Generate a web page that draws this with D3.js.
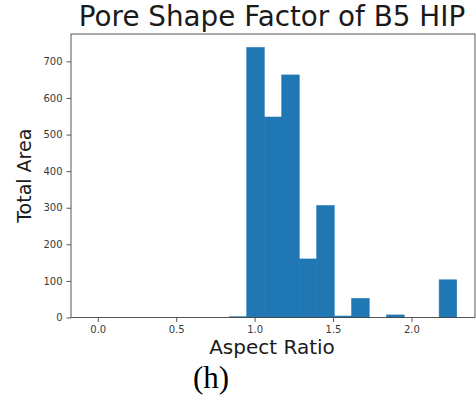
<!DOCTYPE html>
<html>
<head>
<meta charset="utf-8">
<script src="https://cdn.jsdelivr.net/npm/d3@7"></script>
<style>
  html, body { margin: 0; padding: 0; background: #fff; }
  svg { display: block; }
</style>
</head>
<body>
<svg id="chart" width="476" height="398"></svg>
<script>
// Histogram of pore aspect ratios, weighted by area
const binStart = -0.0535;
const binWidth = 0.1115;
const binTotals = [0, 0, 0, 0, 0, 0, 0, 0, 2, 738, 548, 663, 160, 306, 4, 52, 0, 7, 0, 0, 103];
const xTicks = [0.0, 0.5, 1.0, 1.5, 2.0];
const yTicks = [0, 100, 200, 300, 400, 500, 600, 700];
const titleText = "Pore Shape Factor of B5 HIP";
const xLabelText = "Aspect Ratio";
const yLabelText = "Total Area";
const panelText = "(h)";

const bins = binTotals.map((v, i) => ({
  x0: binStart + i * binWidth,
  x1: binStart + (i + 1) * binWidth,
  value: v
}));

const svg = d3.select("#chart");
const plotLeft = 71, plotRight = 475, plotTop = 34, plotBottom = 317.5;

const lo = bins[0].x0, hi = bins[bins.length - 1].x1;
const pad = (hi - lo) * 0.05;
const x = d3.scaleLinear().domain([lo - pad, hi + pad]).range([plotLeft, plotRight]);
const yMax = d3.max(binTotals) * 1.05;
const y = d3.scaleLinear().domain([0, yMax]).range([plotBottom, plotTop]);

// bars (a thin stroke of the fill colour hides seams between neighbours)
svg.append("g").selectAll("rect")
  .data(bins.filter(d => d.value > 0))
  .join("rect")
  .attr("x", d => x(d.x0))
  .attr("width", d => x(d.x1) - x(d.x0))
  .attr("y", d => y(d.value))
  .attr("height", d => y(0) - y(d.value))
  .attr("fill", "#1f77b4")
  .attr("stroke", "#1f77b4")
  .attr("stroke-width", 0.6);

const axisColor = "#444";
const font = "DejaVu Sans, sans-serif";

// axes
const xAxis = svg.append("g")
  .attr("transform", `translate(0,${plotBottom})`)
  .call(d3.axisBottom(x).tickValues(xTicks).tickFormat(d3.format(".1f")).tickSizeOuter(0).tickSize(4.5).tickPadding(4));
const yAxis = svg.append("g")
  .attr("transform", `translate(${plotLeft},0)`)
  .call(d3.axisLeft(y).tickValues(yTicks).tickFormat(d3.format("d")).tickSizeOuter(0).tickSize(4.5).tickPadding(4));

[xAxis, yAxis].forEach(g => {
  g.select(".domain").remove();
  g.selectAll("line").attr("stroke", axisColor).attr("stroke-width", 0.9);
  g.selectAll("text").attr("fill", "#3a3a3a").style("font-family", font).style("font-size", "10px");
});

// frame around the plot area
svg.append("rect")
  .attr("x", plotLeft).attr("y", plotTop)
  .attr("width", plotRight - plotLeft).attr("height", plotBottom - plotTop)
  .attr("fill", "none").attr("stroke", axisColor).attr("stroke-width", 0.9);

// title and labels
svg.append("text")
  .attr("x", (plotLeft + plotRight) / 2 - 1).attr("y", 26)
  .attr("text-anchor", "middle")
  .style("font-family", font).style("font-size", "27.8px").attr("fill", "#1a1a1a")
  .text(titleText);

svg.append("text")
  .attr("x", (plotLeft + plotRight) / 2 - 1).attr("y", 354)
  .attr("text-anchor", "middle")
  .style("font-family", font).style("font-size", "20px").attr("fill", "#1a1a1a")
  .text(xLabelText);

svg.append("text")
  .attr("transform", `translate(31,${(plotTop + plotBottom) / 2}) rotate(-90)`)
  .attr("text-anchor", "middle")
  .style("font-family", font).style("font-size", "19px").attr("fill", "#1a1a1a")
  .text(yLabelText);

svg.append("text")
  .attr("x", 211).attr("y", 388)
  .attr("text-anchor", "middle")
  .style("font-family", "Liberation Serif, Times New Roman, serif").style("font-size", "31px").attr("fill", "#000")
  .text(panelText);
</script>
</body>
</html>
